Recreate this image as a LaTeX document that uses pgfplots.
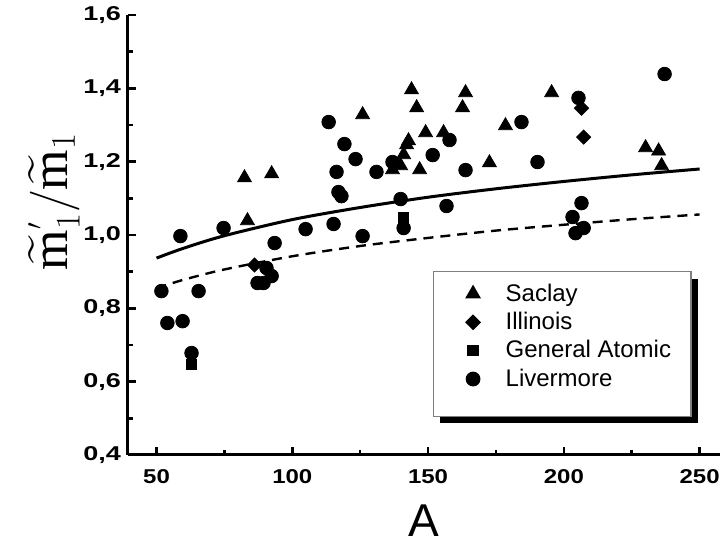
\documentclass[border=0pt]{standalone}
\usepackage{fontspec}
\setmainfont{Liberation Sans}
\newfontfamily\serif{Liberation Serif}
\usepackage{amsmath}
\usepackage{graphicx}
\usepackage{pgfplots}
\pgfplotsset{compat=1.18}
\usetikzlibrary{shadows}

\begin{document}
\begin{tikzpicture}
\useasboundingbox (-64pt,-45.5pt) rectangle (296pt,227.5pt);
\begin{axis}[
  scale only axis,
  width=296pt, height=220pt,
  xmin=39.5, xmax=257.5,
  ymin=0.4, ymax=1.6,
  axis x line*=bottom, axis y line*=left,
  axis line style={line width=1.5pt,-},
  tick align=inside,
  major tick length=4pt, minor tick length=2.5pt,
  every tick/.style={line width=1.3pt,black},
  xtick={50,100,...,250}, minor x tick num=1,
  ytick={0.4,0.6,...,1.6}, minor y tick num=1,
  /pgf/number format/assume math mode=true,
  yticklabel style={/pgf/number format/.cd,use comma,fixed,fixed zerofill,precision=1},
  xticklabel={\scalebox{1.2}[1]{\pgfmathprintnumber{\tick}}},
  yticklabel={\scalebox{1.35}[1]{\pgfmathprintnumber{\tick}}},
  xticklabel style={yshift=-3.5pt},
  ticklabel style={font=\fontsize{10}{12}\selectfont\bfseries},
  xlabel={A},
  xlabel style={font=\fontsize{23}{26}\selectfont, text depth=0pt, inner sep=0pt,
    at={(axis description cs:0.5,-0.186)}, anchor=south},
  ylabel={\serif$\widetilde{\text{m}}^{\scriptscriptstyle\prime}_1/\widetilde{\text{m}}_1$},
  ylabel style={font=\fontsize{26}{30}\selectfont, at={(axis description cs:-0.125,0.576)}, anchor=center},
  legend style={at={(axis description cs:0.515,0.418)}, anchor=north west,
    draw=gray, line width=0.6pt, fill=white,
    drop shadow={shadow xshift=3.5pt, shadow yshift=-3.5pt, fill=black, opacity=1},
    font=\fontsize{12}{14}\selectfont,
    inner xsep=8pt, inner ysep=4pt, row sep=0pt,
    legend cell align=left},
  legend image code/.code={\path (-11.5pt,0pt) (14pt,0pt); \draw[#1] plot coordinates {(0pt,0pt)};},
  every axis plot/.append style={black},
]
\addplot[only marks, mark=triangle*, mark size=4pt] coordinates {
(82.4,1.156) (83.5,1.039) (92.4,1.167) (125.9,1.328) (143.9,1.396) (145.8,1.347)
(142.8,1.257) (142.1,1.246) (141.0,1.219) (139.9,1.189) (136.9,1.178) (146.9,1.178)
(149.1,1.279) (155.7,1.279) (163.8,1.388) (162.7,1.347) (172.6,1.197) (178.5,1.298)
(195.5,1.388) (230.1,1.238) (234.9,1.229) (236.0,1.189)
};
\addlegendentry{Saclay}
\addplot[only marks, mark=square*, mark size=2.5pt, mark options={rotate=45}] coordinates {
(86.1,0.918) (206.5,1.346) (207.3,1.267)
};
\addlegendentry{Illinois}
\addplot[only marks, mark=square*, mark size=2.5pt] coordinates {
(62.9,0.648) (141.0,1.049)
};
\addlegendentry{General Atomic}
\addplot[only marks, mark=*, mark size=3.4pt] coordinates {
(51.8,0.847) (65.5,0.847) (54.0,0.760) (59.6,0.765) (62.9,0.678) (58.8,0.997)
(74.7,1.019) (93.5,0.978) (104.9,1.016) (90.5,0.910) (92.4,0.888) (87.2,0.869)
(89.4,0.869) (113.4,1.308) (119.2,1.248) (123.3,1.207) (116.3,1.172) (131.0,1.172)
(136.9,1.199) (151.7,1.218) (157.9,1.259) (163.8,1.177) (117.0,1.117) (118.1,1.106)
(139.9,1.098) (156.8,1.079) (115.2,1.030) (125.9,0.997) (141.0,1.019) (184.4,1.308)
(190.3,1.199) (205.4,1.374) (206.5,1.087) (203.2,1.049) (204.3,1.005) (207.3,1.019)
(237.1,1.439)
};
\addlegendentry{Livermore}
\addlegendimage{empty legend}
\addlegendentry{\rule{0pt}{2pt}}
\addplot[no marks, line width=1.5pt, smooth, forget plot] coordinates {
(50,0.937) (60,0.964) (75,0.998) (100,1.042) (125,1.075) (150,1.103)
(175,1.126) (200,1.146) (225,1.164) (250,1.180)
};
\addplot[no marks, line width=1.2pt, smooth, dash pattern=on 5pt off 3.5pt, forget plot] coordinates {
(50,0.855) (60,0.878) (75,0.906) (100,0.942) (125,0.970) (150,0.992)
(175,1.012) (200,1.028) (225,1.043) (250,1.056)
};
\end{axis}
\end{tikzpicture}
\end{document}
